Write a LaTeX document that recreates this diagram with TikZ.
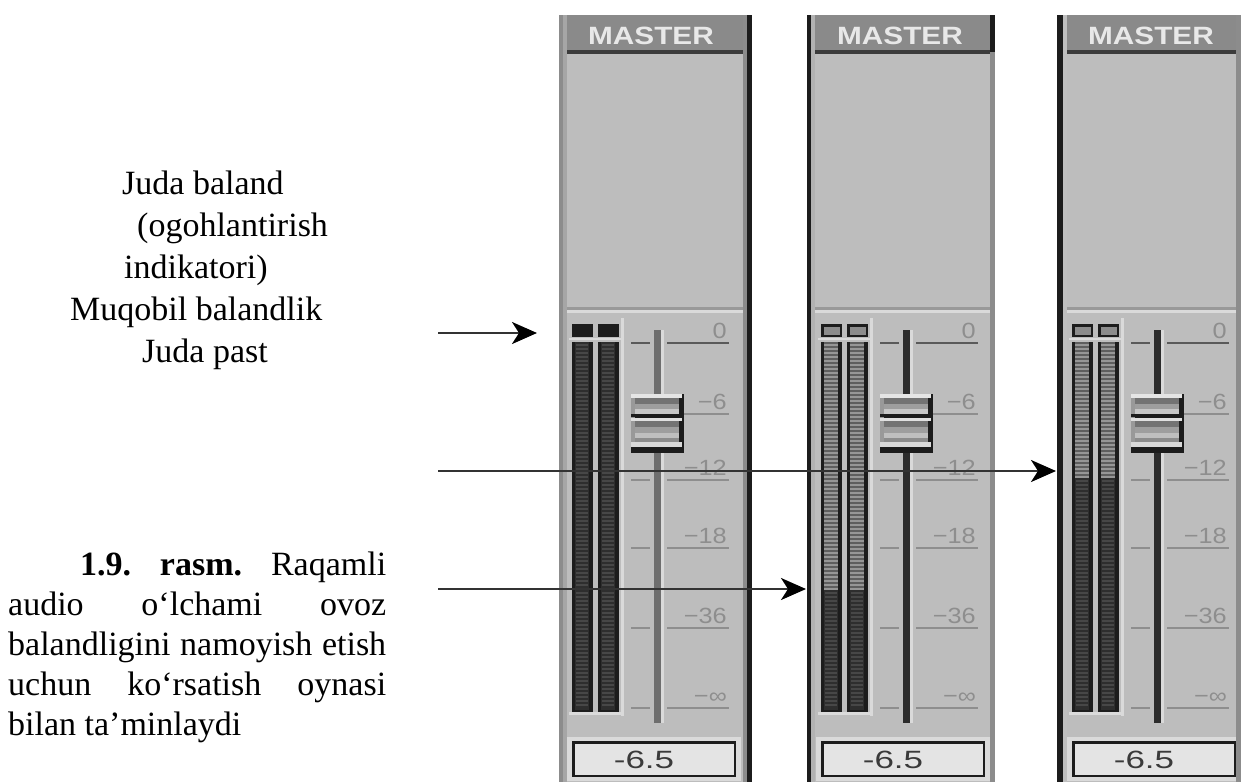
\documentclass[tikz,border=0pt]{standalone}
\usepackage{fontspec}
\usepackage{graphicx}
\setmainfont{Liberation Serif}
\newfontfamily\pxfont{Liberation Sans}
\usetikzlibrary{arrows.meta}
\definecolor{pbg}{HTML}{BDBDBD}
\definecolor{pborder}{HTML}{8C8C8C}
\definecolor{phead}{HTML}{8A8A8A}
\definecolor{headline}{HTML}{3C3C3C}
\definecolor{plight}{HTML}{DADADA}
\definecolor{sepdark}{HTML}{999999}
\definecolor{capdark}{HTML}{1C1C1C}
\definecolor{capgray}{HTML}{8C8C8C}
\definecolor{lblgray}{HTML}{8E8E8E}
\definecolor{tickgray}{HTML}{8E8E8E}
\definecolor{tickdark}{HTML}{5A5A5A}
\definecolor{mdark}{HTML}{2E2E2E}
\definecolor{mdarkstripe}{HTML}{474747}
\definecolor{mlight}{HTML}{5E5E5E}
\definecolor{mlightstripe}{HTML}{969696}
\definecolor{trackmid}{HTML}{6E6E6E}
\definecolor{trackdark}{HTML}{2C2C2C}
\definecolor{boxfill}{HTML}{E4E4E4}
\definecolor{readtxt}{HTML}{3A3A3A}
\definecolor{mastertxt}{HTML}{E8E8E8}
\definecolor{arrowline}{HTML}{333333}
\tikzset{
  lefttext/.style={anchor=base west, font=\fontsize{34}{41}\selectfont, inner sep=0pt},
  scalelbl/.style={anchor=base east, font=\pxfont\fontsize{22}{22}\selectfont, text=lblgray, inner sep=0pt},
  masterlbl/.style={font=\pxfont\bfseries\fontsize{25}{25}\selectfont, text=mastertxt, inner sep=0pt},
  readout/.style={font=\pxfont\fontsize{25}{25}\selectfont, text=readtxt, inner sep=0pt},
  pointer/.style={draw=arrowline, line width=2.5pt, -{Stealth[length=25pt,width=22pt,inset=7pt,color=black]}},
  tickln/.style={draw=tickgray, line width=2pt},
}
\newcommand\sclbl[1]{\scalebox{1.15}[1]{#1}}
\newcommand\mixpanel[5]{%
\begin{scope}[xshift=#1pt]
  \fill[pbg] (559,15) rectangle (#5,782);
  \fill[phead] (559,15) rectangle (#5,51);
  \fill[headline] (559,50) rectangle (#5,54);
  \node[masterlbl] (master#1) at (651,36) {\scalebox{1.19}[1]{MASTER}};
  \fill[sepdark] (559,307) rectangle (#5,310);
  \fill[plight] (559,310) rectangle (#5,313);
  \fill[plight] (569,338) rectangle (622,340);
  \fill[plight] (621,318) rectangle (624,716);
  \fill[plight] (569,712) rectangle (624,715);
  \foreach \bx in {572,598}{
    \filldraw[fill=#3, draw=capdark, line width=2.5pt] (\bx+1.25,325.25) rectangle (\bx+19.75,335.75);
    \fill[capdark] (\bx,342) rectangle (\bx+21,712);
    \fill[mlight] (\bx+3,342) rectangle (\bx+17,#2);
    \fill[mdark] (\bx+3,#2) rectangle (\bx+17,710);
    \foreach \yy in {344,348,...,706}{
      \ifnum\yy<#2\relax
        \fill[mlightstripe] (\bx+3,\yy) rectangle (\bx+17,\yy+1.5);
      \else
        \fill[mdarkstripe] (\bx+4,\yy) rectangle (\bx+16,\yy+1.5);
      \fi
    }
  }
  \draw[tickln, draw=tickdark] (631,343) -- (650,343);
  \draw[tickln, draw=tickdark] (667,343) -- (729,343);
  \foreach \ty in {480,548,628,708}{
    \draw[tickln] (631,\ty) -- (650,\ty);
    \draw[tickln] (667,\ty) -- (729,\ty);
  }
  \draw[tickln] (680,414) -- (729,414);
  \node[scalelbl] (lz#1) at (727,338) {\sclbl{0}};
  \node[scalelbl] (ls#1) at (727,409) {\sclbl{−6}};
  \node[scalelbl] (lt#1) at (727,475) {\sclbl{−12}};
  \node[scalelbl] (le#1) at (727,543) {\sclbl{−18}};
  \node[scalelbl] (lf#1) at (727,623) {\sclbl{−36}};
  \node[scalelbl] (li#1) at (727,703) {\sclbl{−∞}};
  \fill[#4] (654,330) rectangle (661,723);
  \fill[plight] (661,330) rectangle (664,723);
  % knob
  \fill[capdark] (631,394) rectangle (684,453);
  \fill[white!90!black] (631,394) rectangle (682,398);
  \fill[black!40] (631,398) rectangle (635,447);
  \fill[black!55] (635,398) rectangle (679,404);
  \fill[black!38] (635,404) rectangle (679,409);
  \fill[black!22] (635,409) rectangle (679,414);
  \fill[capdark] (631,414) rectangle (682,417);
  \fill[white!88!black] (631,418) rectangle (682,421);
  \fill[black!55] (635,421) rectangle (679,427);
  \fill[black!38] (635,427) rectangle (679,433);
  \fill[black!25] (635,433) rectangle (679,438);
  \fill[black!45] (635,438) rectangle (679,442);
  \fill[white!85!black] (631,442) rectangle (682,447);
  % readout
  \fill[plight] (567,737) rectangle (741,781);
  \filldraw[fill=boxfill, draw=capdark, line width=2.5pt] (573.25,742.25) rectangle (734.75,775.75);
  \node[readout] (ro#1) at (644,760) {\scalebox{1.4}[1]{-6.5}};
\end{scope}}

\begin{document}
\begin{tikzpicture}[x=1pt,y=-1pt]
  \fill[white] (0,0) rectangle (1241,782);
  \useasboundingbox (0,0) rectangle (1241,782);

  % panels
  \mixpanel{0}{342}{capdark}{trackmid}{747}
  \mixpanel{249}{590}{capgray}{trackdark}{741}
  \mixpanel{500}{478}{capgray}{trackdark}{736}

  % panel borders
  \fill[pborder] (559,15) rectangle (563,782);
  \fill[black!35] (563,15) rectangle (567,782);
  \fill[pborder] (743,15) rectangle (747,782);
  \fill[capdark] (747,15) rectangle (752,782);

  \fill[capdark] (807,15) rectangle (811,782);
  \fill[black!30] (811,15) rectangle (815,782);
  \fill[pborder] (990,15) rectangle (995,782);
  \fill[capdark] (990,15) rectangle (995,52);

  \fill[capdark] (1057,15) rectangle (1063,782);
  \fill[black!25] (1063,15) rectangle (1067,782);
  \fill[pborder] (1236,15) rectangle (1241,782);

  % left texts
  \node[lefttext] (tA) at (122,194) {Juda baland};
  \node[lefttext] (tB) at (137,236) {(ogohlantirish};
  \node[lefttext] (tC) at (124,278) {indikatori)};
  \node[lefttext] (tD) at (70,320) {Muqobil balandlik};
  \node[lefttext] (tE) at (142,362) {Juda past};

  \node[anchor=base west, text width=378pt, align=justify, inner sep=0pt,
        font=\fontsize{34}{40}\selectfont] (caption) at (8,575)
    {\hspace*{72pt}\textbf{1.9.} \textbf{rasm.} Raqamli\linebreak
     audio o‘lchami ovoz\linebreak
     balandligini namoyish etish\linebreak
     uchun ko‘rsatish oynasi\linebreak
     bilan ta’minlaydi};

  % arrows
  \coordinate (s1) at (438,333);
  \coordinate (e1) at (537,333);
  \coordinate (s2) at (438,471);
  \coordinate (e2) at (1056,471);
  \coordinate (s3) at (438,589);
  \coordinate (e3) at (806,589);
  \draw[pointer] (s1) -- (e1);
  \draw[pointer] (s2) -- (e2);
  \draw[pointer] (s3) -- (e3);
\end{tikzpicture}
\end{document}
